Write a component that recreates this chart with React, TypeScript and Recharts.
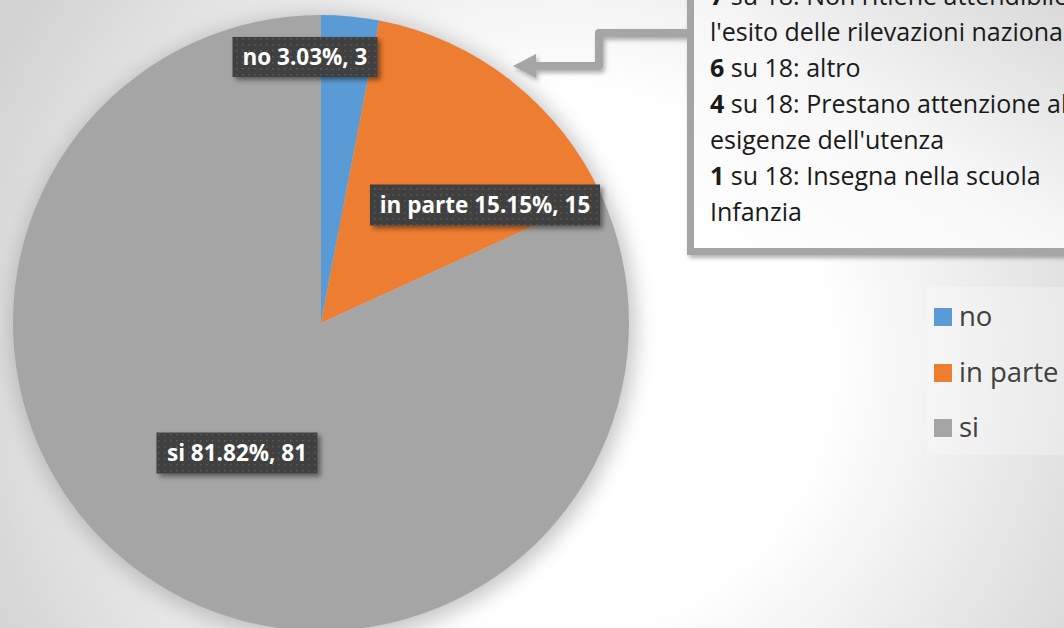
import { PieChart, Pie, Cell, Legend } from "recharts";

const categories = ["no", "in parte", "si"];
const counts = [3, 15, 81];
const colors = ["#5B9BD5", "#ED7D31", "#A5A5A5"];

const calloutLines = [
  { bold: "7", text: " su 18: Non ritiene attendibile" },
  { bold: "", text: "l'esito delle rilevazioni nazionali" },
  { bold: "6", text: " su 18: altro" },
  { bold: "4", text: " su 18: Prestano attenzione alle" },
  { bold: "", text: "esigenze dell'utenza" },
  { bold: "1", text: " su 18: Insegna nella scuola" },
  { bold: "", text: "Infanzia" },
];

const data = categories.map((name, i) => ({ name, value: counts[i] }));
const total = counts.reduce((a, b) => a + b, 0);

// where each data label box sits, relative to the pie centre (moved by hand in the original)
const labelBoxes = [
  { dx: -16, dy: -266, w: 145, h: 40 },
  { dx: 164, dy: -118, w: 230, h: 41 },
  { dx: -84, dy: 130, w: 161, h: 41 },
];

const W = 1064;
const H = 628;
const CX = 321;
const CY = 323;
const R = 308;
const FONT = "'Open Sans', sans-serif";

function renderLabel(props: any) {
  const { cx, cy, index, name, value } = props;
  const box = labelBoxes[index];
  const x = cx + box.dx;
  const y = cy + box.dy;
  const pct = ((value / total) * 100).toFixed(2);
  return (
    <g>
      <g filter="url(#lblShadow)">
        <rect x={x - box.w / 2} y={y - box.h / 2} width={box.w} height={box.h} fill="#404040" />
      </g>
      <rect x={x - box.w / 2} y={y - box.h / 2} width={box.w} height={box.h} fill="url(#dots)" />
      <text
        x={x}
        y={y + 8}
        textAnchor="middle"
        fill="#ffffff"
        fontFamily={FONT}
        fontWeight={700}
        fontSize={22.5}
      >
        {`${name} ${pct}%, ${value}`}
      </text>
    </g>
  );
}

function renderLegend() {
  return (
    <div style={{ width: 137, height: 168, background: "rgba(255,255,255,0.25)", position: "relative" }}>
      {categories.map((c, i) => (
        <div
          key={c}
          style={{
            position: "absolute",
            left: 7,
            top: 21 + i * 55.5,
            display: "flex",
            alignItems: "center",
            fontFamily: FONT,
            fontSize: 27.5,
            color: "#404040",
            whiteSpace: "nowrap",
            lineHeight: "18px",
          }}
        >
          <span style={{ width: 18, height: 18, background: colors[i], display: "inline-block", marginRight: 7 }} />
          <span style={{ position: "relative", top: -1 }}>{c}</span>
        </div>
      ))}
    </div>
  );
}

export default function App() {
  return (
    <div style={{ position: "absolute", left: 0, top: 0, width: W, height: H, overflow: "hidden" }}>
      <svg width={W} height={H} style={{ position: "absolute", left: 0, top: 0 }}>
        <defs>
          <radialGradient id="bg" cx={560} cy={360} r={640} gradientUnits="userSpaceOnUse">
            <stop offset="0" stopColor="#ffffff" />
            <stop offset="0.42" stopColor="#ffffff" />
            <stop offset="1" stopColor="#d2d2d2" />
          </radialGradient>
          <filter id="pieGlow" x="-20%" y="-20%" width="140%" height="140%">
            <feGaussianBlur stdDeviation="10" />
          </filter>
          <filter id="lblShadow" x="-20%" y="-40%" width="140%" height="180%">
            <feDropShadow dx="3" dy="3" stdDeviation="2.5" floodColor="#000" floodOpacity="0.45" />
          </filter>
          <filter id="lineShadow" x="-20%" y="-20%" width="140%" height="140%">
            <feDropShadow dx="2" dy="3" stdDeviation="2" floodColor="#000" floodOpacity="0.3" />
          </filter>
          <pattern id="dots" width="6" height="6" patternUnits="userSpaceOnUse">
            <rect x="2" y="2" width="1.5" height="1.5" fill="#5c5c5c" />
          </pattern>
          <linearGradient id="boxBg" x1="0" y1="1" x2="1" y2="0">
            <stop offset="0" stopColor="#ffffff" />
            <stop offset="0.45" stopColor="#f8f8f8" />
            <stop offset="1" stopColor="#d4d4d4" />
          </linearGradient>
        </defs>
        <rect width={W} height={H} fill="url(#bg)" />
        <circle cx={CX + 2} cy={CY + 4} r={R + 5} fill="#9a9a9a" opacity={0.55} filter="url(#pieGlow)" />
      </svg>

      <div style={{ position: "absolute", left: 0, top: 0 }}>
        <PieChart width={W} height={H} margin={{ top: 0, right: 0, bottom: 0, left: 0 }}>
          <Pie
            data={data}
            dataKey="value"
            nameKey="name"
            cx={CX}
            cy={CY}
            outerRadius={R}
            startAngle={90}
            endAngle={-270}
            stroke="none"
            label={renderLabel}
            labelLine={false}
            isAnimationActive={false}
          >
            {data.map((d, i) => (
              <Cell key={d.name} fill={colors[i]} />
            ))}
          </Pie>
          <Legend
            content={renderLegend}
            wrapperStyle={{ position: "absolute", left: 927, top: 287, width: 137, height: 168 }}
          />
        </PieChart>
      </div>

      <svg width={W} height={H} style={{ position: "absolute", left: 0, top: 0, pointerEvents: "none" }}>
        <g filter="url(#lineShadow)">
          <polyline
            points="687,33 599,33 599,66 532,66"
            fill="none"
            stroke="#A5A5A5"
            strokeWidth={8}
            strokeLinejoin="round"
          />
          <polygon points="513,66 536,54 536,78" fill="#A5A5A5" />
          <rect x={690.5} y={-10} width={420} height={261.5} fill="url(#boxBg)" stroke="#A5A5A5" strokeWidth={7} />
        </g>
        <text fontFamily={FONT} fontSize={25} fill="#1a1a1a">
          {calloutLines.map((l, i) => (
            <tspan key={i} x={710} y={5 + i * 36}>
              {l.bold ? <tspan fontWeight={700}>{l.bold}</tspan> : null}
              {l.text}
            </tspan>
          ))}
        </text>
      </svg>
    </div>
  );
}
